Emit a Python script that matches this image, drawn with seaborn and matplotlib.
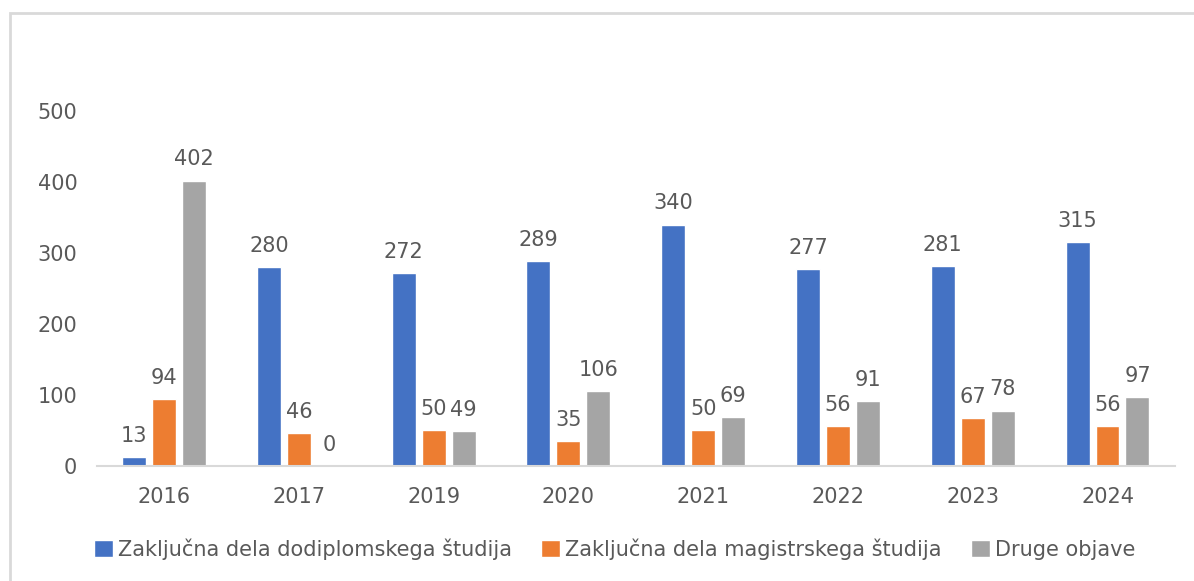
import matplotlib
matplotlib.use('Agg')
import matplotlib.pyplot as plt
import seaborn as sns
import pandas as pd
from matplotlib.patches import Rectangle

# Chart data
years = ['2016', '2017', '2019', '2020', '2021', '2022', '2023', '2024']
series_names = ['Zaključna dela dodiplomskega študija',
                'Zaključna dela magistrskega študija',
                'Druge objave']
undergrad = [13, 280, 272, 289, 340, 277, 281, 315]
masters = [94, 46, 50, 35, 50, 56, 67, 56]
other = [402, 0, 49, 106, 69, 91, 78, 97]
colors = ['#4472C4', '#ED7D31', '#A5A5A5']

df = pd.DataFrame({
    'year': years * 3,
    'series': [series_names[0]] * len(years) + [series_names[1]] * len(years) + [series_names[2]] * len(years),
    'value': undergrad + masters + other,
})

sns.set_theme(style='white')
plt.rcParams['font.family'] = ['DejaVu Sans']
text_color = '#595959'
fs = 15

fig = plt.figure(figsize=(11.94, 5.81), dpi=100)
ax = fig.add_axes([0.081, 0.198, 0.903, 0.611])

sns.barplot(data=df, x='year', y='value', hue='series', order=years,
            hue_order=series_names, palette=colors, width=0.667, gap=0.2,
            saturation=1, ax=ax, legend=True)

for container in ax.containers:
    ax.bar_label(container, padding=8, fontsize=fs, color=text_color)

ax.set_ylim(0, 500)
ax.set_yticks([0, 100, 200, 300, 400, 500])
ax.set_xlabel('')
ax.set_ylabel('')
ax.tick_params(axis='both', length=0, labelsize=fs, labelcolor=text_color)
ax.tick_params(axis='y', pad=14)
ax.tick_params(axis='x', pad=15)
for side in ['top', 'right', 'left']:
    ax.spines[side].set_visible(False)
ax.spines['bottom'].set_color('#d9d9d9')
ax.spines['bottom'].set_linewidth(1.5)

handles, labels = ax.get_legend_handles_labels()
ax.legend_.remove()
fig.legend(handles, labels, loc='center', bbox_to_anchor=(0.515, 0.055), ncol=3,
           frameon=False, fontsize=fs, labelcolor=text_color,
           handlelength=0.9, handleheight=0.9, handletextpad=0.25, columnspacing=1.4)

# light frame around the chart area
fig.patches.append(Rectangle((10 / 1194, -0.05), 1.1, 1 - 13 / 581 + 0.05,
                             transform=fig.transFigure, fill=False,
                             edgecolor='#d9d9d9', linewidth=2))

fig.savefig('out.png', dpi=100)
